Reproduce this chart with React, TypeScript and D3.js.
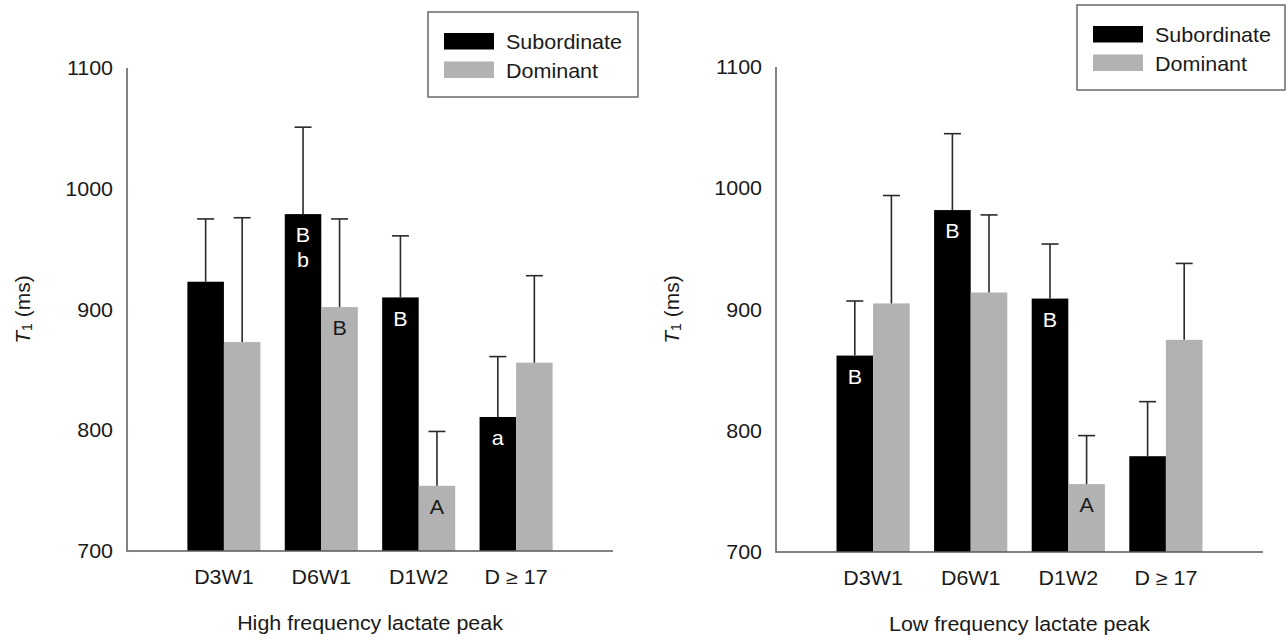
import React from "react";
import * as d3 from "d3";

// Categories and series
const categories = ["D3W1", "D6W1", "D1W2", "D \u2265 17"];
const seriesNames = ["Subordinate", "Dominant"];
const seriesColors = ["#000000", "#b2b2b2"];
const yTicks = [700, 800, 900, 1000, 1100];

// High frequency lactate peak: means and upper error limits (ms)
const highSubordinate = [923, 979, 910, 811];
const highSubordinateErr = [975, 1051, 961, 861];
const highDominant = [873, 902, 754, 856];
const highDominantErr = [976, 975, 799, 928];

// Low frequency lactate peak
const lowSubordinate = [862, 982, 909, 779];
const lowSubordinateErr = [907, 1045, 954, 824];
const lowDominant = [905, 914, 756, 875];
const lowDominantErr = [994, 978, 796, 938];

// Significance letters: [category index, series index, text lines]
const highLetters: [number, number, string[]][] = [
  [1, 0, ["B", "b"]],
  [1, 1, ["B"]],
  [2, 0, ["B"]],
  [2, 1, ["A"]],
  [3, 0, ["a"]],
];
const lowLetters: [number, number, string[]][] = [
  [0, 0, ["B"]],
  [1, 0, ["B"]],
  [2, 0, ["B"]],
  [2, 1, ["A"]],
];

const FONT = "'Liberation Sans', Arial, Helvetica, sans-serif";
const TEXT = "#1a1a1a";

// Text drawn slightly widened horizontally, anchored at (x, y)
function WideText({
  x,
  y,
  sx = 1.1,
  anchor = "start",
  baseline,
  size,
  fill = TEXT,
  children,
}: {
  x: number;
  y: number;
  sx?: number;
  anchor?: string;
  baseline?: string;
  size: number;
  fill?: string;
  children: React.ReactNode;
}) {
  return (
    <g transform={`translate(${x},${y}) scale(${sx},1)`}>
      <text
        x={0}
        y={0}
        textAnchor={anchor}
        dominantBaseline={baseline}
        fontSize={size}
        fill={fill}
      >
        {children}
      </text>
    </g>
  );
}

type PanelProps = {
  x0: number;
  x1: number;
  yTop: number;
  yBottom: number;
  means: number[][];
  errs: number[][];
  letters: [number, number, string[]][];
  title: string;
  legend: { x: number; y: number; w: number; h: number };
};

function Panel({ x0, x1, yTop, yBottom, means, errs, letters, title, legend }: PanelProps) {
  const y = d3.scaleLinear().domain([700, 1100]).range([yBottom, yTop]);
  const xGroup = d3
    .scaleBand<string>()
    .domain(categories)
    .range([x0, x1])
    .paddingInner(0.25)
    .paddingOuter(0.62);
  const xSeries = d3
    .scaleBand<string>()
    .domain(seriesNames)
    .range([0, xGroup.bandwidth()]);
  const bw = xSeries.bandwidth();
  const axisColor = "#5a5a5a";
  const errColor = "#2a2a2a";
  const capHalf = 8.5;

  return (
    <g fontFamily={FONT}>
      {/* bars */}
      {seriesNames.map((s, si) =>
        categories.map((c, ci) => {
          const bx = (xGroup(c) ?? 0) + (xSeries(s) ?? 0);
          const top = y(means[si][ci]);
          return (
            <rect
              key={`bar-${si}-${ci}`}
              x={bx}
              y={top}
              width={bw}
              height={y(700) - top}
              fill={seriesColors[si]}
            />
          );
        })
      )}
      {/* error bars */}
      {seriesNames.map((s, si) =>
        categories.map((c, ci) => {
          const cx = (xGroup(c) ?? 0) + (xSeries(s) ?? 0) + bw / 2;
          const top = y(means[si][ci]);
          const e = y(errs[si][ci]);
          return (
            <g key={`err-${si}-${ci}`} stroke={errColor} strokeWidth={1.6}>
              <line x1={cx} x2={cx} y1={top} y2={e} />
              <line x1={cx - capHalf} x2={cx + capHalf} y1={e} y2={e} />
            </g>
          );
        })
      )}
      {/* significance letters */}
      {letters.map(([ci, si, lines], i) => {
        const cx = (xGroup(categories[ci]) ?? 0) + (xSeries(seriesNames[si]) ?? 0) + bw / 2;
        const top = y(means[si][ci]);
        return lines.map((t, li) => (
          <WideText
            key={`let-${i}-${li}`}
            x={cx}
            y={top + 21 + li * 25}
            sx={1.05}
            anchor="middle"
            baseline="central"
            size={20.5}
            fill={si === 0 ? "#ffffff" : TEXT}
          >
            {t}
          </WideText>
        ));
      })}
      {/* axes */}
      <path
        d={`M${x0},${y(1100)}V${y(700)}H${x1}`}
        fill="none"
        stroke={axisColor}
        strokeWidth={1.5}
      />
      {yTicks.map((t) => (
        <WideText
          key={`yt-${t}`}
          x={x0 - 14}
          y={y(t)}
          anchor="end"
          baseline="central"
          size={19.5}
        >
          {t}
        </WideText>
      ))}
      {categories.map((c) => (
        <WideText
          key={`xt-${c}`}
          x={(xGroup(c) ?? 0) + xGroup.bandwidth() / 2}
          y={y(700) + 33}
          anchor="middle"
          size={19.5}
        >
          {c}
        </WideText>
      ))}
      <WideText x={(x0 + x1) / 2} y={y(700) + 79} anchor="middle" size={19.5}>
        {title}
      </WideText>
      <text
        transform={`translate(${x0 - 105},${y(900)}) rotate(-90)`}
        textAnchor="middle"
        dominantBaseline="central"
        fontSize={21}
        fill={TEXT}
      >
        <tspan fontStyle="italic">T</tspan>
        <tspan fontSize={14} dy={5}>1</tspan>
        <tspan dy={-5}> (ms)</tspan>
      </text>
      {/* legend */}
      <rect
        x={legend.x}
        y={legend.y}
        width={legend.w}
        height={legend.h}
        fill="#ffffff"
        stroke="#6a6a6a"
        strokeWidth={1.5}
      />
      {seriesNames.map((s, si) => (
        <g key={`leg-${s}`}>
          <rect
            x={legend.x + 16}
            y={legend.y + 21 + si * 28.5}
            width={50}
            height={16.5}
            fill={seriesColors[si]}
          />
          <WideText
            x={legend.x + 78}
            y={legend.y + 30 + si * 28.5}
            sx={1.05}
            baseline="central"
            size={20.5}
          >
            {s}
          </WideText>
        </g>
      ))}
    </g>
  );
}

export default function App() {
  return (
    <svg
      width={1288}
      height={640}
      style={{ position: "absolute", left: 0, top: 0, background: "#ffffff" }}
    >
      <Panel
        x0={127}
        x1={613}
        yTop={68}
        yBottom={551}
        means={[highSubordinate, highDominant]}
        errs={[highSubordinateErr, highDominantErr]}
        letters={highLetters}
        title="High frequency lactate peak"
        legend={{ x: 428, y: 12, w: 210, h: 85 }}
      />
      <Panel
        x0={776}
        x1={1263}
        yTop={67}
        yBottom={552}
        means={[lowSubordinate, lowDominant]}
        errs={[lowSubordinateErr, lowDominantErr]}
        letters={lowLetters}
        title="Low frequency lactate peak"
        legend={{ x: 1077, y: 5, w: 208, h: 85 }}
      />
    </svg>
  );
}
